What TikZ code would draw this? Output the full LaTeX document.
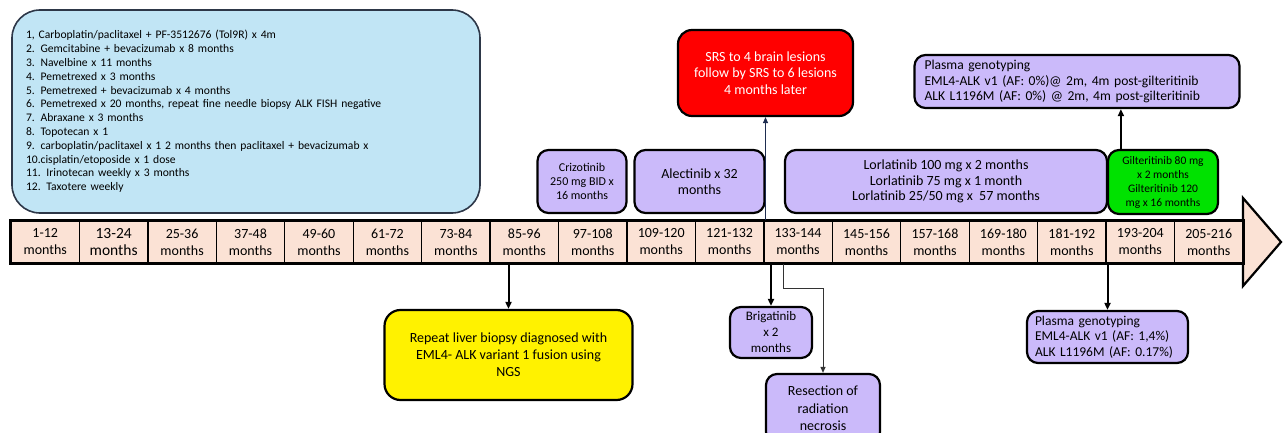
\documentclass[tikz,border=0pt]{standalone}
\usepackage{fontspec}
\setmainfont{Carlito}
\usetikzlibrary{calc,arrows.meta}
\definecolor{peach}{RGB}{251,226,213}
\definecolor{skyfill}{RGB}{193,229,245}
\definecolor{skyline}{RGB}{45,55,72}
\definecolor{lilac}{RGB}{203,186,250}
\definecolor{brightgreen}{RGB}{0,226,0}
\definecolor{navyline}{RGB}{30,45,80}
\newcommand{\fsz}[2]{\fontsize{#1}{#2}\selectfont}
\tikzset{
  box/.style={draw=black, line width=2.2pt, rounded corners=11pt, inner sep=0pt, align=center},
  lilacbox/.style={box, fill=lilac},
  cell/.style={draw=black, line width=1.3pt, fill=peach, minimum width=68.44pt, minimum height=42pt, inner sep=0pt, align=center, font=\fsz{14}{17}},
  thickarrow/.style={draw=black, line width=2pt, -{Triangle[length=7pt,width=6pt]}},
  thinarrow/.style={draw=black!80, line width=1pt, -{Triangle[length=6pt,width=5pt]}}
}
\begin{document}
\begin{tikzpicture}[x=1pt,y=-1pt]
\useasboundingbox (0,0) rectangle (1284,433);
% big arrow head of the timeline
\filldraw[fill=peach, draw=black, line width=2.2pt, line join=miter] (1243,198) -- (1281,242) -- (1243,286) -- cycle;
% timeline cells
\node[cell] (c1) at ({11+0.5*68.44},242) {1-12\\months};
\node[cell, font=\fsz{15.5}{17.5}] (c2) at ({11+1.5*68.44},242) {13-24\\months};
\foreach \i/\t in {3/25-36,4/37-48,5/49-60,6/61-72,7/73-84,8/85-96,9/97-108,10/109-120,11/121-132,12/133-144,13/145-156,14/157-168,15/169-180,16/181-192,17/193-204,18/205-216}{
  \node[cell] (c\i) at ({11+(\i-0.5)*68.44},242) {\t\\months};
}
\draw[line width=2.2pt] (c1.north west) rectangle (c18.south east);
% blue list box
\node[draw=skyline, line width=1.6pt, fill=skyfill, rounded corners=28pt, minimum width=468pt, minimum height=203pt, inner xsep=0pt, text width=440pt, align=left, font=\fsz{11.6}{13.8}] (list) at (246,111.5) {%
1, Carboplatin/paclitaxel + PF-3512676 (Tol9R) x 4m\\
2. Gemcitabine + bevacizumab x 8 months\\
3. Navelbine x 11 months\\
4. Pemetrexed x 3 months\\
5. Pemetrexed + bevacizumab x 4 months\\
6. Pemetrexed x 20 months, repeat fine needle biopsy ALK FISH negative\\
7. Abraxane x 3 months\\
8. Topotecan x 1\\
9. carboplatin/paclitaxel x 1 2 months then paclitaxel + bevacizumab x\\
10.cisplatin/etoposide x 1 dose\\
11. Irinotecan weekly x 3 months\\
12. Taxotere weekly};
% upper boxes
\node[lilacbox, minimum width=89pt, minimum height=63pt, font=\fsz{12}{14}] (criz) at (582,181.5) {Crizotinib\\250 mg BID x\\16 months};
\node[lilacbox, minimum width=130pt, minimum height=63pt, font=\fsz{14}{15.5}] (alec) at (699.5,181.5) {Alectinib x 32\\months};
\node[box, fill=red, text=white, minimum width=175pt, minimum height=86pt, rounded corners=14pt, font=\fsz{14}{16.5}] (srs) at (765.5,73) {SRS to 4 brain lesions\\follow by SRS to 6 lesions\\4 months later};
\node[lilacbox, minimum width=322pt, minimum height=63pt, font=\fsz{14}{15.5}] (lorl) at (946,181.5) {Lorlatinib 100 mg x 2 months\\Lorlatinib 75 mg x 1 month\\Lorlatinib 25/50 mg x~ 57 months};
\node[box, fill=brightgreen, minimum width=110pt, minimum height=64pt, font=\fsz{11.5}{14}] (gilt) at (1163,182) {Gilteritinib 80 mg\\x 2 months\\Gilteritinib 120\\mg x 16 months};
\node[lilacbox, minimum width=325pt, minimum height=53pt, align=left, text width=305pt, font=\fsz{13.6}{15.5}] (ptop) at (1077,81.5) {Plasma genotyping\\EML4-ALK v1 (AF: 0\%)@ 2m, 4m post-gilteritinib\\ALK L1196M (AF: 0\%) @ 2m, 4m post-gilteritinib};
% lower boxes
\node[box, fill=yellow, minimum width=248pt, minimum height=90pt, rounded corners=16pt, font=\fsz{14}{17}] (liver) at (508.5,355) {Repeat liver biopsy diagnosed with\\EML4- ALK variant 1 fusion using\\NGS};
\node[lilacbox, minimum width=82pt, minimum height=51pt, font=\fsz{13}{16}] (brig) at (771,332.5) {Brigatinib\\x 2\\months};
\node[lilacbox, minimum width=114pt, minimum height=69pt, font=\fsz{14}{17.5}] (resec) at (823,408.5) {Resection of\\radiation\\necrosis};
\node[lilacbox, minimum width=161pt, minimum height=52pt, align=left, text width=145pt, font=\fsz{13.5}{15.5}] (pbot) at (1107.5,337) {Plasma genotyping\\EML4-ALK v1 (AF: 1,4\%)\\ALK L1196M (AF: 0.17\%)};
% connectors
\coordinate (gtop) at ($(gilt.north west)+(14,0)$);
\coordinate (rtop) at ($(c12.south west)+(20,0)$);
\draw[thickarrow] (liver.north |- c8.south) -- (liver.north);
\draw[thickarrow] (brig.north |- c12.south) -- (brig.north);
\draw[thinarrow] (rtop) -- ++(0,25) -| (resec.north);
\draw[draw=navyline, line width=1pt, -{Triangle[length=6pt,width=5pt]}] (srs.south |- c12.north) -- (srs.south);
\draw[thickarrow] (gtop) -- (gtop |- ptop.south);
\draw[thickarrow] (pbot.north |- c17.south) -- (pbot.north);
\end{tikzpicture}
\end{document}
